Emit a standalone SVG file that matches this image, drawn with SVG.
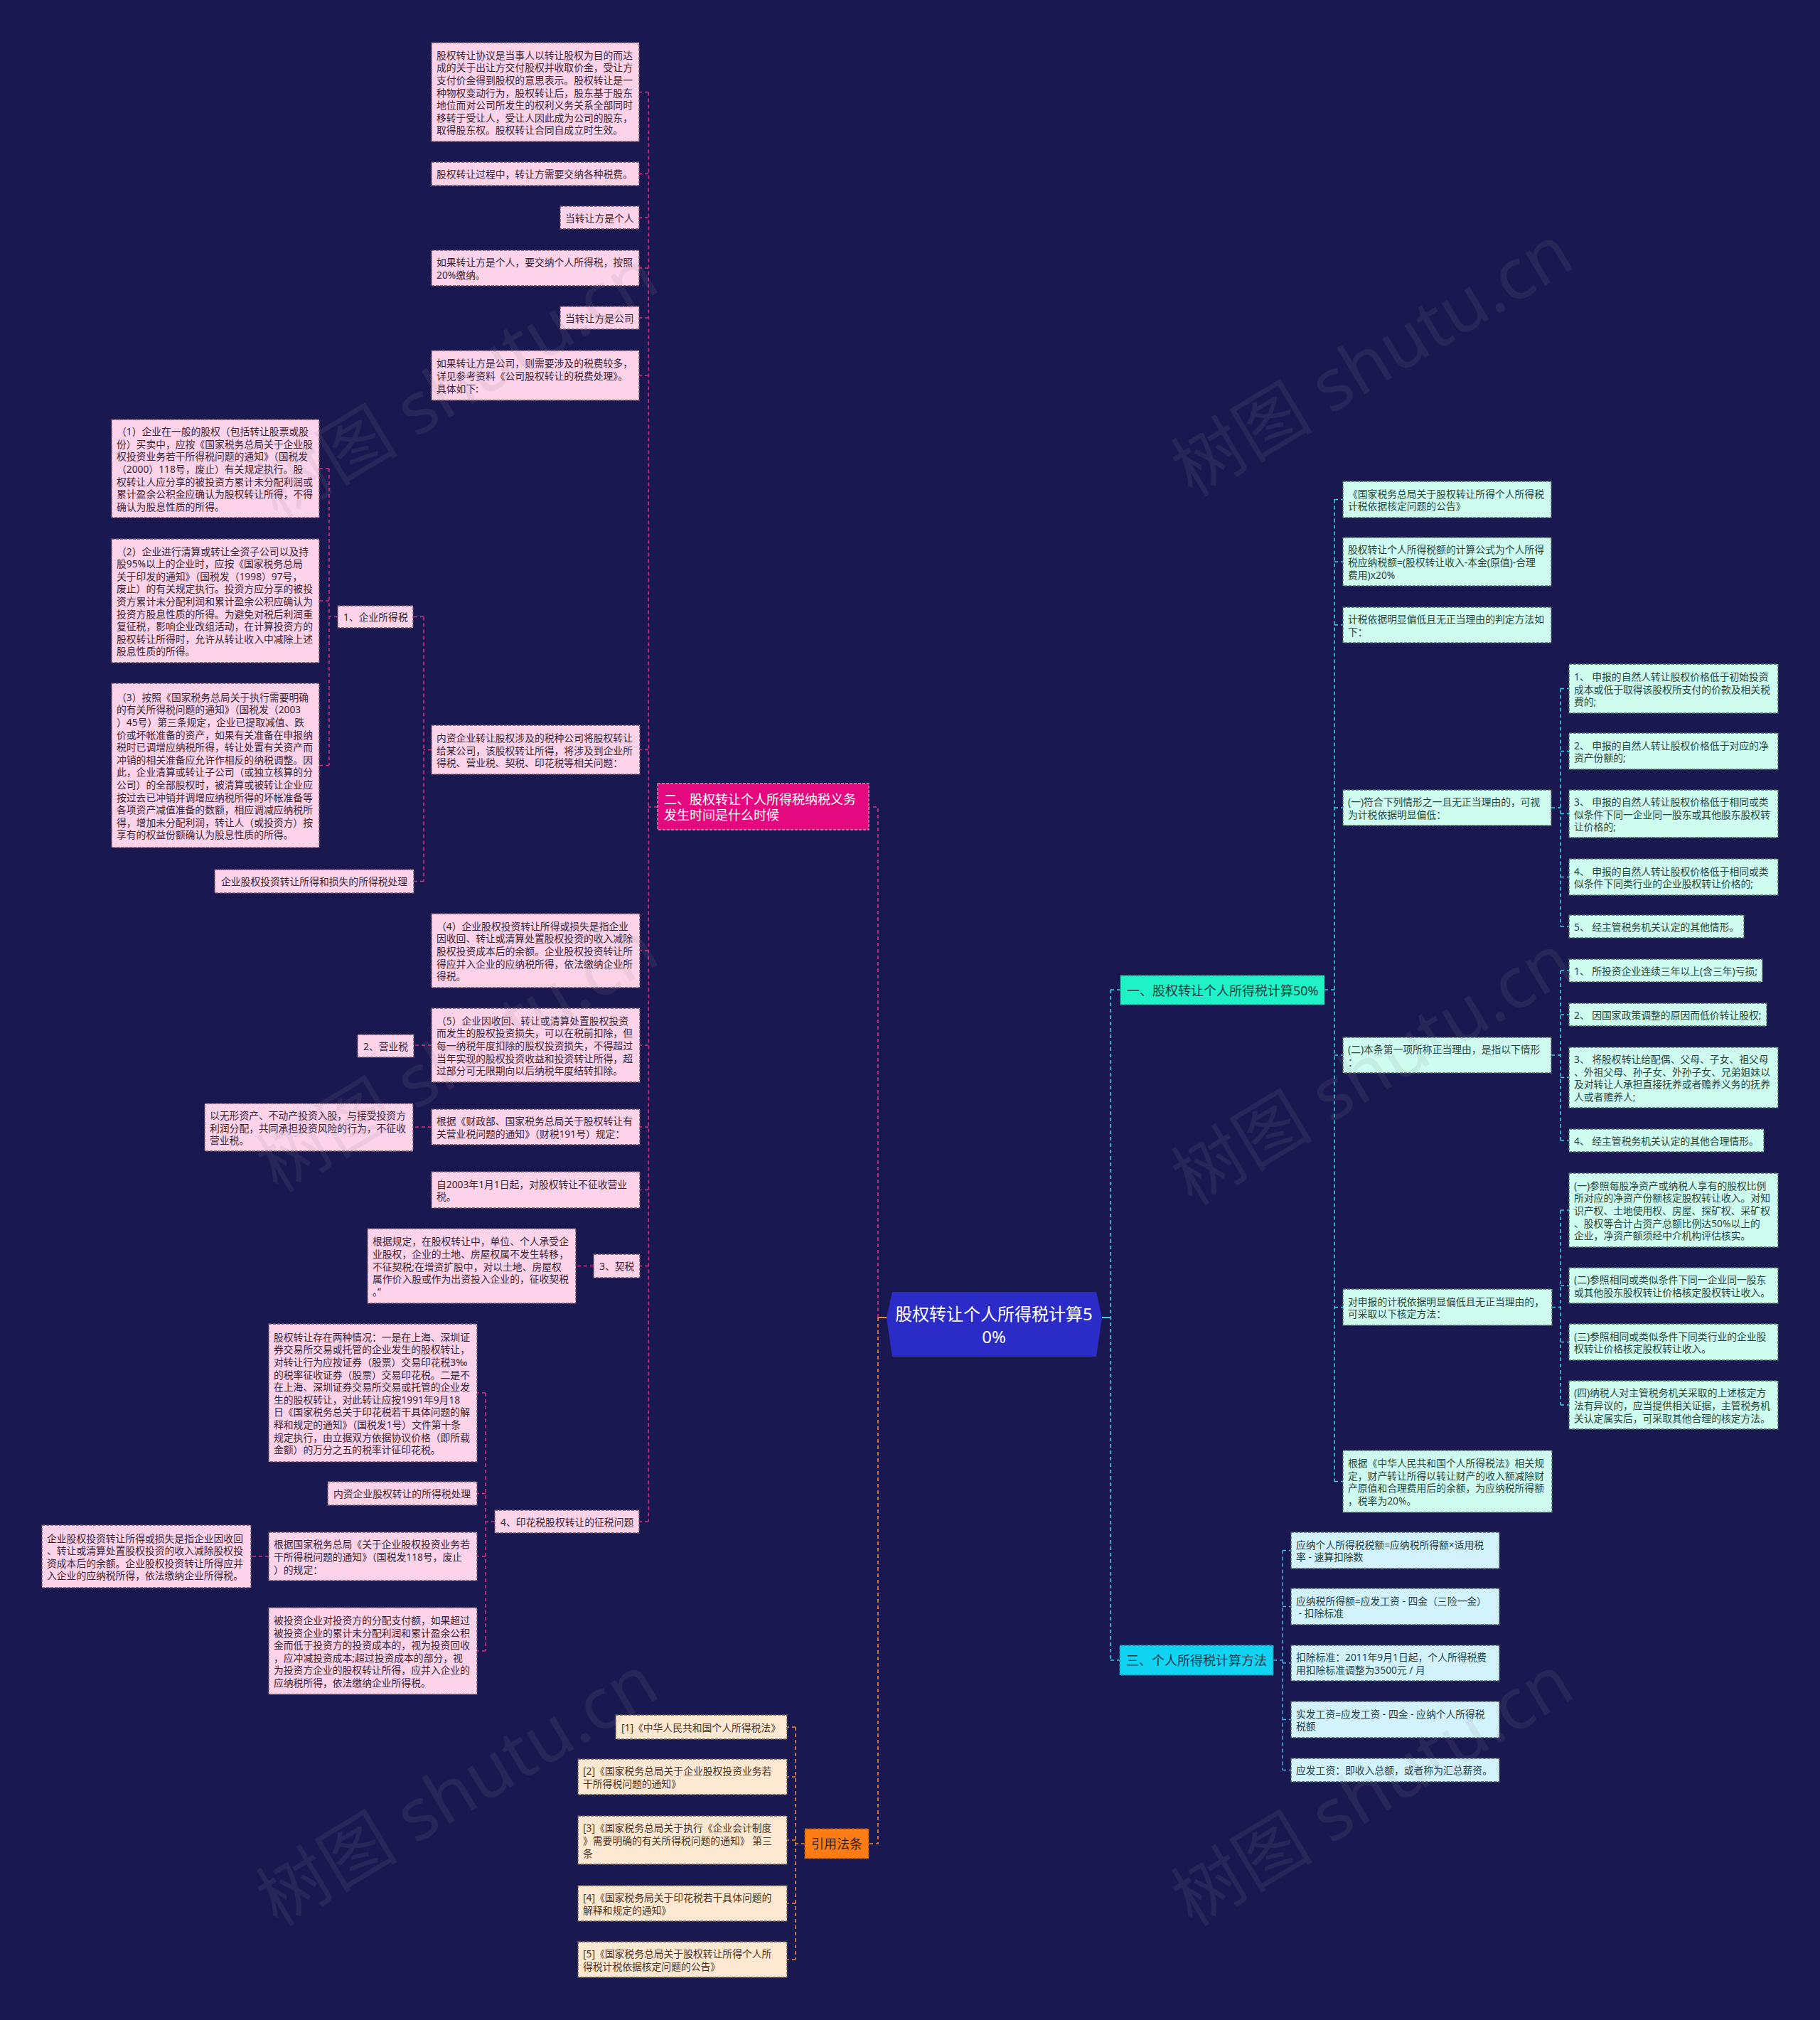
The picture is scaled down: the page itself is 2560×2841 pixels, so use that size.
<svg xmlns="http://www.w3.org/2000/svg" width="2560" height="2841" viewBox="0 0 2560 2841">
<style>
text{font-family:"Noto Sans","Noto Sans CJK SC",sans-serif;font-size:13.8px;dominant-baseline:central}
.pk rect{fill:#fdd3e9;stroke:#6e5068;stroke-width:1.3;stroke-dasharray:4 2}
.pk text{fill:#3a2436}
.cr rect{fill:#fde8d2;stroke:#6e5a48;stroke-width:1.3;stroke-dasharray:4 2}
.cr text{fill:#4a3322}
.mt rect{fill:#cefcef;stroke:#4b6b66;stroke-width:1.3;stroke-dasharray:4 2}
.mt text{fill:#27463f}
.lb rect{fill:#d2f3fb;stroke:#4a6470;stroke-width:1.3;stroke-dasharray:4 2}
.lb text{fill:#243e4a}
.c{fill:none;stroke-width:1.6;stroke-dasharray:5 4}
.s{fill:none;stroke-width:2}
.mg{stroke:#d8307f}.or{stroke:#f0893a}.cy{stroke:#35d3e6}.bl{stroke:#48a8e3}
.big{font-size:18px}
.wm{font-size:100px;fill:#8a8a9a;fill-opacity:.13;dominant-baseline:auto}
</style>
<rect width="2560" height="2841" fill="#1a1850"/>

<g id="connectors">
<path class="s or" d="M1247,1853H1235"/>
<path class="c mg" d="M1235,1853V1135H1222"/>
<path class="c or" d="M1235,1853V2593H1222"/>
<path class="s cy" d="M1550,1853H1562"/>
<path class="c cy" d="M1562,1392V2335M1562,1392H1576M1562,2335H1575"/>
<path class="c mg" d="M925,1135H912M912,129.5V2140M912,129.5H899M912,244.5H899M912,306H899M912,377H899M912,447H899M912,528H899M912,1054.5H900M912,1337H900M912,1470H900M912,1585H900M912,1673.5H900M912,1780.5H900M912,2140H899"/>
<path class="c mg" d="M607,1054.5H596M596,867.5V1239.5M596,867.5H581M596,1239.5H582"/>
<path class="c mg" d="M475,867.5H463M463,659V1076.5M463,659H449M463,845H449M463,1076.5H449"/>
<path class="c mg" d="M607,1470H582M607,1585H581M835,1780.5H810"/>
<path class="c mg" d="M696,2140H683M683,1959V2322M683,1959H671M683,2100.5H671M683,2189H671M683,2322H671M378,2189H353"/>
<path class="c or" d="M1132,2593H1119M1119,2429V2756M1119,2429H1107M1119,2499H1107M1119,2588H1107M1119,2677H1107M1119,2756H1107"/>
<path class="c cy" d="M1863,1392H1877M1877,702.5V2083.5M1877,702.5H1889M1877,790H1889M1877,879H1889M1877,1136H1889M1877,1484H1889M1877,1838.5H1889M1877,2083.5H1889"/>
<path class="c cy" d="M2182,1136H2195M2195,968.5V1303M2195,968.5H2207M2195,1056.5H2207M2195,1144.5H2207M2195,1233.5H2207M2195,1303H2207"/>
<path class="c cy" d="M2182,1484H2195M2195,1365V1604M2195,1365H2207M2195,1427H2207M2195,1515.5H2207M2195,1604H2207"/>
<path class="c cy" d="M2183,1838.5H2195M2195,1702V1976M2195,1702H2207M2195,1808H2207M2195,1887.5H2207M2195,1976H2207"/>
<path class="c bl" d="M1791,2335H1804M1804,2180.5V2489.5M1804,2180.5H1816M1804,2259.5H1816M1804,2339H1816M1804,2418.5H1816M1804,2489.5H1816"/>
</g>

<g id="center">
<polygon points="1255,1817 1542,1817 1550,1853 1542,1908 1255,1908 1247,1853" fill="#2b2bc8"/>
<text x="1398" y="1849" text-anchor="middle" style="font-size:24px" fill="#ffffff"><tspan x="1398" y="1847">股权转让个人所得税计算5</tspan><tspan x="1398" y="1879">0%</tspan></text>
</g>

<g id="b2">
<rect x="925" y="1102" width="297" height="65" fill="#e5097f" stroke="#f38ab8" stroke-width="1.3" stroke-dasharray="4 2"/>
<text class="big" fill="#ffffff"><tspan x="934" y="1123.5">二、股权转让个人所得税纳税义务</tspan><tspan x="934" y="1145.5">发生时间是什么时候</tspan></text>
</g>
<g id="b1">
<rect x="1576" y="1372" width="287" height="41" fill="#1ef2c6" stroke="#3a8f80" stroke-width="1.3" stroke-dasharray="4 2"/>
<text class="big" x="1585" y="1392.5" fill="#1e3a44">一、股权转让个人所得税计算50%</text>
</g>
<g id="b3">
<rect x="1575" y="2314" width="216" height="42" fill="#10d4f2" stroke="#2a7f95" stroke-width="1.3" stroke-dasharray="4 2"/>
<text class="big" x="1584" y="2335" fill="#1e3a4a">三、个人所得税计算方法</text>
</g>
<g id="bref">
<rect x="1132" y="2572" width="90" height="42" fill="#ff7b14" stroke="#8a4a1a" stroke-width="1.3" stroke-dasharray="4 2"/>
<text class="big" x="1141" y="2593" fill="#3b2416">引用法条</text>
</g>

<g id="n1" class="pk"><rect x="607" y="60" width="292" height="139"/><text><tspan x="614" y="76.7">股权转让协议是当事人以转让股权为目的而达</tspan><tspan x="614" y="94.3">成的关于出让方交付股权并收取价金，受让方</tspan><tspan x="614" y="111.9">支付价金得到股权的意思表示。股权转让是一</tspan><tspan x="614" y="129.5">种物权变动行为，股权转让后，股东基于股东</tspan><tspan x="614" y="147.1">地位而对公司所发生的权利义务关系全部同时</tspan><tspan x="614" y="164.7">移转于受让人，受让人因此成为公司的股东，</tspan><tspan x="614" y="182.3">取得股东权。股权转让合同自成立时生效。</tspan></text></g>
<g id="n2" class="pk"><rect x="607" y="228" width="292" height="33"/><text x="614" y="244.5">股权转让过程中，转让方需要交纳各种税费。</text></g>
<g id="n3" class="pk"><rect x="788" y="290" width="111" height="32"/><text x="795" y="306">当转让方是个人</text></g>
<g id="n4" class="pk"><rect x="607" y="352" width="292" height="50"/><text><tspan x="614" y="368.2">如果转让方是个人，要交纳个人所得税，按照</tspan><tspan x="614" y="385.8">20%缴纳。</tspan></text></g>
<g id="n5" class="pk"><rect x="788" y="431" width="111" height="32"/><text x="795" y="447">当转让方是公司</text></g>
<g id="n6" class="pk"><rect x="607" y="493" width="292" height="70"/><text><tspan x="614" y="510.4">如果转让方是公司，则需要涉及的税费较多，</tspan><tspan x="614" y="528">详见参考资料《公司股权转让的税费处理》。</tspan><tspan x="614" y="545.6">具体如下:</tspan></text></g>
<g id="n7" class="pk"><rect x="607" y="1020" width="293" height="69"/><text><tspan x="614" y="1036.9">内资企业转让股权涉及的税种公司将股权转让</tspan><tspan x="614" y="1054.5">给某公司，该股权转让所得，将涉及到企业所</tspan><tspan x="614" y="1072.1">得税、营业税、契税、印花税等相关问题：</tspan></text></g>
<g id="n8" class="pk"><rect x="475" y="852" width="106" height="31"/><text x="483" y="867.5">1、企业所得税</text></g>
<g id="n9" class="pk"><rect x="157" y="590" width="292" height="138"/><text><tspan x="164" y="606.2">（1）企业在一般的股权（包括转让股票或股</tspan><tspan x="164" y="623.8">份）买卖中，应按《国家税务总局关于企业股</tspan><tspan x="164" y="641.4">权投资业务若干所得税问题的通知》（国税发</tspan><tspan x="164" y="659">（2000）118号，废止）有关规定执行。股</tspan><tspan x="164" y="676.6">权转让人应分享的被投资方累计未分配利润或</tspan><tspan x="164" y="694.2">累计盈余公积金应确认为股权转让所得，不得</tspan><tspan x="164" y="711.8">确认为股息性质的所得。</tspan></text></g>
<g id="n10" class="pk"><rect x="157" y="758" width="292" height="174"/><text><tspan x="164" y="774.6">（2）企业进行清算或转让全资子公司以及持</tspan><tspan x="164" y="792.2">股95%以上的企业时，应按《国家税务总局</tspan><tspan x="164" y="809.8">关于印发的通知》（国税发（1998）97号，</tspan><tspan x="164" y="827.4">废止）的有关规定执行。投资方应分享的被投</tspan><tspan x="164" y="845">资方累计未分配利润和累计盈余公积应确认为</tspan><tspan x="164" y="862.6">投资方股息性质的所得。为避免对税后利润重</tspan><tspan x="164" y="880.2">复征税，影响企业改组活动，在计算投资方的</tspan><tspan x="164" y="897.8">股权转让所得时，允许从转让收入中减除上述</tspan><tspan x="164" y="915.4">股息性质的所得。</tspan></text></g>
<g id="n11" class="pk"><rect x="157" y="961" width="292" height="231"/><text><tspan x="164" y="979.7">（3）按照《国家税务总局关于执行需要明确</tspan><tspan x="164" y="997.3">的有关所得税问题的通知》（国税发（2003</tspan><tspan x="164" y="1014.9">）45号）第三条规定，企业已提取减值、跌</tspan><tspan x="164" y="1032.5">价或坏帐准备的资产，如果有关准备在申报纳</tspan><tspan x="164" y="1050.1">税时已调增应纳税所得，转让处置有关资产而</tspan><tspan x="164" y="1067.7">冲销的相关准备应允许作相反的纳税调整。因</tspan><tspan x="164" y="1085.3">此，企业清算或转让子公司（或独立核算的分</tspan><tspan x="164" y="1102.9">公司）的全部股权时，被清算或被转让企业应</tspan><tspan x="164" y="1120.5">按过去已冲销并调增应纳税所得的坏帐准备等</tspan><tspan x="164" y="1138.1">各项资产减值准备的数额，相应调减应纳税所</tspan><tspan x="164" y="1155.7">得，增加未分配利润，转让人（或投资方）按</tspan><tspan x="164" y="1173.3">享有的权益份额确认为股息性质的所得。</tspan></text></g>
<g id="n12" class="pk"><rect x="302" y="1223" width="280" height="33"/><text x="311" y="1239.5">企业股权投资转让所得和损失的所得税处理</text></g>
<g id="n13" class="pk"><rect x="607" y="1285" width="293" height="104"/><text><tspan x="614" y="1301.8">（4）企业股权投资转让所得或损失是指企业</tspan><tspan x="614" y="1319.4">因收回、转让或清算处置股权投资的收入减除</tspan><tspan x="614" y="1337">股权投资成本后的余额。企业股权投资转让所</tspan><tspan x="614" y="1354.6">得应并入企业的应纳税所得，依法缴纳企业所</tspan><tspan x="614" y="1372.2">得税。</tspan></text></g>
<g id="n14" class="pk"><rect x="607" y="1418" width="293" height="104"/><text><tspan x="614" y="1434.8">（5）企业因收回、转让或清算处置股权投资</tspan><tspan x="614" y="1452.4">而发生的股权投资损失，可以在税前扣除，但</tspan><tspan x="614" y="1470">每一纳税年度扣除的股权投资损失，不得超过</tspan><tspan x="614" y="1487.6">当年实现的股权投资收益和投资转让所得，超</tspan><tspan x="614" y="1505.2">过部分可无限期向以后纳税年度结转扣除。</tspan></text></g>
<g id="n15" class="pk"><rect x="503" y="1455" width="79" height="32"/><text x="511" y="1471">2、营业税</text></g>
<g id="n16" class="pk"><rect x="607" y="1560" width="293" height="50"/><text><tspan x="614" y="1576.2">根据《财政部、国家税务总局关于股权转让有</tspan><tspan x="614" y="1593.8">关营业税问题的通知》（财税191号）规定：</tspan></text></g>
<g id="n17" class="pk"><rect x="288" y="1552" width="293" height="67"/><text><tspan x="295" y="1567.9">以无形资产、不动产投资入股，与接受投资方</tspan><tspan x="295" y="1585.5">利润分配，共同承担投资风险的行为，不征收</tspan><tspan x="295" y="1603.1">营业税。</tspan></text></g>
<g id="n18" class="pk"><rect x="607" y="1648" width="293" height="51"/><text><tspan x="614" y="1664.7">自2003年1月1日起，对股权转让不征收营业</tspan><tspan x="614" y="1682.3">税。</tspan></text></g>
<g id="n19" class="pk"><rect x="835" y="1764" width="65" height="33"/><text x="843" y="1780.5">3、契税</text></g>
<g id="n20" class="pk"><rect x="517" y="1728" width="293" height="105"/><text><tspan x="524" y="1745.3">根据规定，在股权转让中，单位、个人承受企</tspan><tspan x="524" y="1762.9">业股权，企业的土地、房屋权属不发生转移，</tspan><tspan x="524" y="1780.5">不征契税;在增资扩股中，对以土地、房屋权</tspan><tspan x="524" y="1798.1">属作价入股或作为出资投入企业的，征收契税</tspan><tspan x="524" y="1815.7">。”</tspan></text></g>
<g id="n21" class="pk"><rect x="696" y="2124" width="203" height="32"/><text x="704" y="2140">4、印花税股权转让的征税问题</text></g>
<g id="n22" class="pk"><rect x="378" y="1862" width="293" height="194"/><text><tspan x="385" y="1879.8">股权转让存在两种情况：一是在上海、深圳证</tspan><tspan x="385" y="1897.4">券交易所交易或托管的企业发生的股权转让，</tspan><tspan x="385" y="1915">对转让行为应按证券（股票）交易印花税3‰</tspan><tspan x="385" y="1932.6">的税率征收证券（股票）交易印花税。二是不</tspan><tspan x="385" y="1950.2">在上海、深圳证券交易所交易或托管的企业发</tspan><tspan x="385" y="1967.8">生的股权转让，对此转让应按1991年9月18</tspan><tspan x="385" y="1985.4">日《国家税务总关于印花税若干具体问题的解</tspan><tspan x="385" y="2003">释和规定的通知》（国税发1号）文件第十条</tspan><tspan x="385" y="2020.6">规定执行，由立据双方依据协议价格（即所载</tspan><tspan x="385" y="2038.2">金额）的万分之五的税率计征印花税。</tspan></text></g>
<g id="n23" class="pk"><rect x="461" y="2084" width="210" height="33"/><text x="469" y="2100.5">内资企业股权转让的所得税处理</text></g>
<g id="n24" class="pk"><rect x="378" y="2155" width="293" height="68"/><text><tspan x="385" y="2171.4">根据国家税务总局《关于企业股权投资业务若</tspan><tspan x="385" y="2189">干所得税问题的通知》（国税发118号，废止</tspan><tspan x="385" y="2206.6">）的规定：</tspan></text></g>
<g id="n25" class="pk"><rect x="378" y="2261" width="293" height="122"/><text><tspan x="385" y="2278">被投资企业对投资方的分配支付额，如果超过</tspan><tspan x="385" y="2295.6">被投资企业的累计未分配利润和累计盈余公积</tspan><tspan x="385" y="2313.2">金而低于投资方的投资成本的，视为投资回收</tspan><tspan x="385" y="2330.8">，应冲减投资成本;超过投资成本的部分，视</tspan><tspan x="385" y="2348.4">为投资方企业的股权转让所得，应并入企业的</tspan><tspan x="385" y="2366">应纳税所得，依法缴纳企业所得税。</tspan></text></g>
<g id="n26" class="pk"><rect x="59" y="2145" width="294" height="88"/><text><tspan x="66" y="2162.6">企业股权投资转让所得或损失是指企业因收回</tspan><tspan x="66" y="2180.2">、转让或清算处置股权投资的收入减除股权投</tspan><tspan x="66" y="2197.8">资成本后的余额。企业股权投资转让所得应并</tspan><tspan x="66" y="2215.4">入企业的应纳税所得，依法缴纳企业所得税。</tspan></text></g>

<g id="r1" class="cr"><rect x="866" y="2412" width="241" height="34"/><text x="874" y="2429">[1]《中华人民共和国个人所得税法》</text></g>
<g id="r2" class="cr"><rect x="813" y="2474" width="294" height="50"/><text><tspan x="820" y="2490.2">[2]《国家税务总局关于企业股权投资业务若</tspan><tspan x="820" y="2507.8">干所得税问题的通知》</tspan></text></g>
<g id="r3" class="cr"><rect x="813" y="2554" width="294" height="68"/><text><tspan x="820" y="2570.4">[3]《国家税务总局关于执行《企业会计制度</tspan><tspan x="820" y="2588">》需要明确的有关所得税问题的通知》 第三</tspan><tspan x="820" y="2605.6">条</tspan></text></g>
<g id="r4" class="cr"><rect x="813" y="2652" width="294" height="50"/><text><tspan x="820" y="2668.2">[4]《国家税务局关于印花税若干具体问题的</tspan><tspan x="820" y="2685.8">解释和规定的通知》</tspan></text></g>
<g id="r5" class="cr"><rect x="813" y="2731" width="294" height="50"/><text><tspan x="820" y="2747.2">[5]《国家税务总局关于股权转让所得个人所</tspan><tspan x="820" y="2764.8">得税计税依据核定问题的公告》</tspan></text></g>

<g id="m1" class="mt"><rect x="1889" y="677" width="293" height="51"/><text><tspan x="1896" y="693.7">《国家税务总局关于股权转让所得个人所得税</tspan><tspan x="1896" y="711.3">计税依据核定问题的公告》</tspan></text></g>
<g id="m2" class="mt"><rect x="1889" y="756" width="293" height="68"/><text><tspan x="1896" y="772.4">股权转让个人所得税额的计算公式为个人所得</tspan><tspan x="1896" y="790">税应纳税额=(股权转让收入-本金(原值)-合理</tspan><tspan x="1896" y="807.6">费用)x20%</tspan></text></g>
<g id="m3" class="mt"><rect x="1889" y="854" width="293" height="50"/><text><tspan x="1896" y="870.2">计税依据明显偏低且无正当理由的判定方法如</tspan><tspan x="1896" y="887.8">下：</tspan></text></g>
<g id="m4" class="mt"><rect x="1889" y="1111" width="293" height="50"/><text><tspan x="1896" y="1127.2">(一)符合下列情形之一且无正当理由的，可视</tspan><tspan x="1896" y="1144.8">为计税依据明显偏低：</tspan></text></g>
<g id="m5" class="mt"><rect x="1889" y="1459" width="293" height="50"/><text><tspan x="1896" y="1475.2">(二)本条第一项所称正当理由，是指以下情形</tspan><tspan x="1896" y="1492.8">：</tspan></text></g>
<g id="m6" class="mt"><rect x="1889" y="1813" width="294" height="51"/><text><tspan x="1896" y="1829.7">对申报的计税依据明显偏低且无正当理由的，</tspan><tspan x="1896" y="1847.3">可采取以下核定方法：</tspan></text></g>
<g id="m7" class="mt"><rect x="1889" y="2040" width="294" height="87"/><text><tspan x="1896" y="2057.1">根据《中华人民共和国个人所得税法》相关规</tspan><tspan x="1896" y="2074.7">定，财产转让所得以转让财产的收入额减除财</tspan><tspan x="1896" y="2092.3">产原值和合理费用后的余额，为应纳税所得额</tspan><tspan x="1896" y="2109.9">，税率为20%。</tspan></text></g>

<g id="f1" class="mt"><rect x="2207" y="934" width="294" height="69"/><text><tspan x="2214" y="950.9">1、 申报的自然人转让股权价格低于初始投资</tspan><tspan x="2214" y="968.5">成本或低于取得该股权所支付的价款及相关税</tspan><tspan x="2214" y="986.1">费的;</tspan></text></g>
<g id="f2" class="mt"><rect x="2207" y="1031" width="294" height="51"/><text><tspan x="2214" y="1047.7">2、 申报的自然人转让股权价格低于对应的净</tspan><tspan x="2214" y="1065.3">资产份额的;</tspan></text></g>
<g id="f3" class="mt"><rect x="2207" y="1111" width="294" height="67"/><text><tspan x="2214" y="1126.9">3、 申报的自然人转让股权价格低于相同或类</tspan><tspan x="2214" y="1144.5">似条件下同一企业同一股东或其他股东股权转</tspan><tspan x="2214" y="1162.1">让价格的;</tspan></text></g>
<g id="f4" class="mt"><rect x="2207" y="1208" width="294" height="51"/><text><tspan x="2214" y="1224.7">4、 申报的自然人转让股权价格低于相同或类</tspan><tspan x="2214" y="1242.3">似条件下同类行业的企业股权转让价格的;</tspan></text></g>
<g id="f5" class="mt"><rect x="2207" y="1287" width="246" height="32"/><text x="2214" y="1303">5、 经主管税务机关认定的其他情形。</text></g>
<g id="g1" class="mt"><rect x="2207" y="1349" width="272" height="32"/><text x="2214" y="1365">1、 所投资企业连续三年以上(含三年)亏损;</text></g>
<g id="g2" class="mt"><rect x="2207" y="1411" width="278" height="32"/><text x="2214" y="1427">2、 因国家政策调整的原因而低价转让股权;</text></g>
<g id="g3" class="mt"><rect x="2207" y="1473" width="294" height="85"/><text><tspan x="2214" y="1489.1">3、 将股权转让给配偶、父母、子女、祖父母</tspan><tspan x="2214" y="1506.7">、外祖父母、孙子女、外孙子女、兄弟姐妹以</tspan><tspan x="2214" y="1524.3">及对转让人承担直接抚养或者赡养义务的抚养</tspan><tspan x="2214" y="1541.9">人或者赡养人;</tspan></text></g>
<g id="g4" class="mt"><rect x="2207" y="1588" width="274" height="32"/><text x="2214" y="1604">4、 经主管税务机关认定的其他合理情形。</text></g>
<g id="h1" class="mt"><rect x="2207" y="1650" width="294" height="104"/><text><tspan x="2214" y="1666.8">(一)参照每股净资产或纳税人享有的股权比例</tspan><tspan x="2214" y="1684.4">所对应的净资产份额核定股权转让收入。对知</tspan><tspan x="2214" y="1702">识产权、土地使用权、房屋、探矿权、采矿权</tspan><tspan x="2214" y="1719.6">、股权等合计占资产总额比例达50%以上的</tspan><tspan x="2214" y="1737.2">企业，净资产额须经中介机构评估核实。</tspan></text></g>
<g id="h2" class="mt"><rect x="2207" y="1783" width="294" height="50"/><text><tspan x="2214" y="1799.2">(二)参照相同或类似条件下同一企业同一股东</tspan><tspan x="2214" y="1816.8">或其他股东股权转让价格核定股权转让收入。</tspan></text></g>
<g id="h3" class="mt"><rect x="2207" y="1862" width="294" height="51"/><text><tspan x="2214" y="1878.7">(三)参照相同或类似条件下同类行业的企业股</tspan><tspan x="2214" y="1896.3">权转让价格核定股权转让收入。</tspan></text></g>
<g id="h4" class="mt"><rect x="2207" y="1942" width="294" height="68"/><text><tspan x="2214" y="1958.4">(四)纳税人对主管税务机关采取的上述核定方</tspan><tspan x="2214" y="1976">法有异议的，应当提供相关证据，主管税务机</tspan><tspan x="2214" y="1993.6">关认定属实后，可采取其他合理的核定方法。</tspan></text></g>

<g id="k1" class="lb"><rect x="1816" y="2155" width="293" height="51"/><text><tspan x="1823" y="2171.7">应纳个人所得税税额=应纳税所得额×适用税</tspan><tspan x="1823" y="2189.3">率 - 速算扣除数</tspan></text></g>
<g id="k2" class="lb"><rect x="1816" y="2234" width="293" height="51"/><text><tspan x="1823" y="2250.7">应纳税所得额=应发工资 - 四金（三险一金）</tspan><tspan x="1823" y="2268.3"> - 扣除标准</tspan></text></g>
<g id="k3" class="lb"><rect x="1816" y="2314" width="293" height="50"/><text><tspan x="1823" y="2330.2">扣除标准：2011年9月1日起，个人所得税费</tspan><tspan x="1823" y="2347.8">用扣除标准调整为3500元 / 月</tspan></text></g>
<g id="k4" class="lb"><rect x="1816" y="2393" width="293" height="51"/><text><tspan x="1823" y="2409.7">实发工资=应发工资 - 四金 - 应纳个人所得税</tspan><tspan x="1823" y="2427.3">税额</tspan></text></g>
<g id="k5" class="lb"><rect x="1816" y="2473" width="293" height="33"/><text x="1823" y="2489.5">应发工资：即收入总额，或者称为汇总薪资。</text></g>

<g id="watermarks">
<text class="wm" x="643" y="575" text-anchor="middle" transform="rotate(-31 643 540)">树图 shutu.cn</text>
<text class="wm" x="1930" y="542" text-anchor="middle" transform="rotate(-31 1930 507)">树图 shutu.cn</text>
<text class="wm" x="643" y="1521" text-anchor="middle" transform="rotate(-31 643 1486)">树图 shutu.cn</text>
<text class="wm" x="1930" y="1539" text-anchor="middle" transform="rotate(-31 1930 1504)">树图 shutu.cn</text>
<text class="wm" x="643" y="2553" text-anchor="middle" transform="rotate(-31 643 2518)">树图 shutu.cn</text>
<text class="wm" x="1930" y="2553" text-anchor="middle" transform="rotate(-31 1930 2518)">树图 shutu.cn</text>
</g>
</svg>
